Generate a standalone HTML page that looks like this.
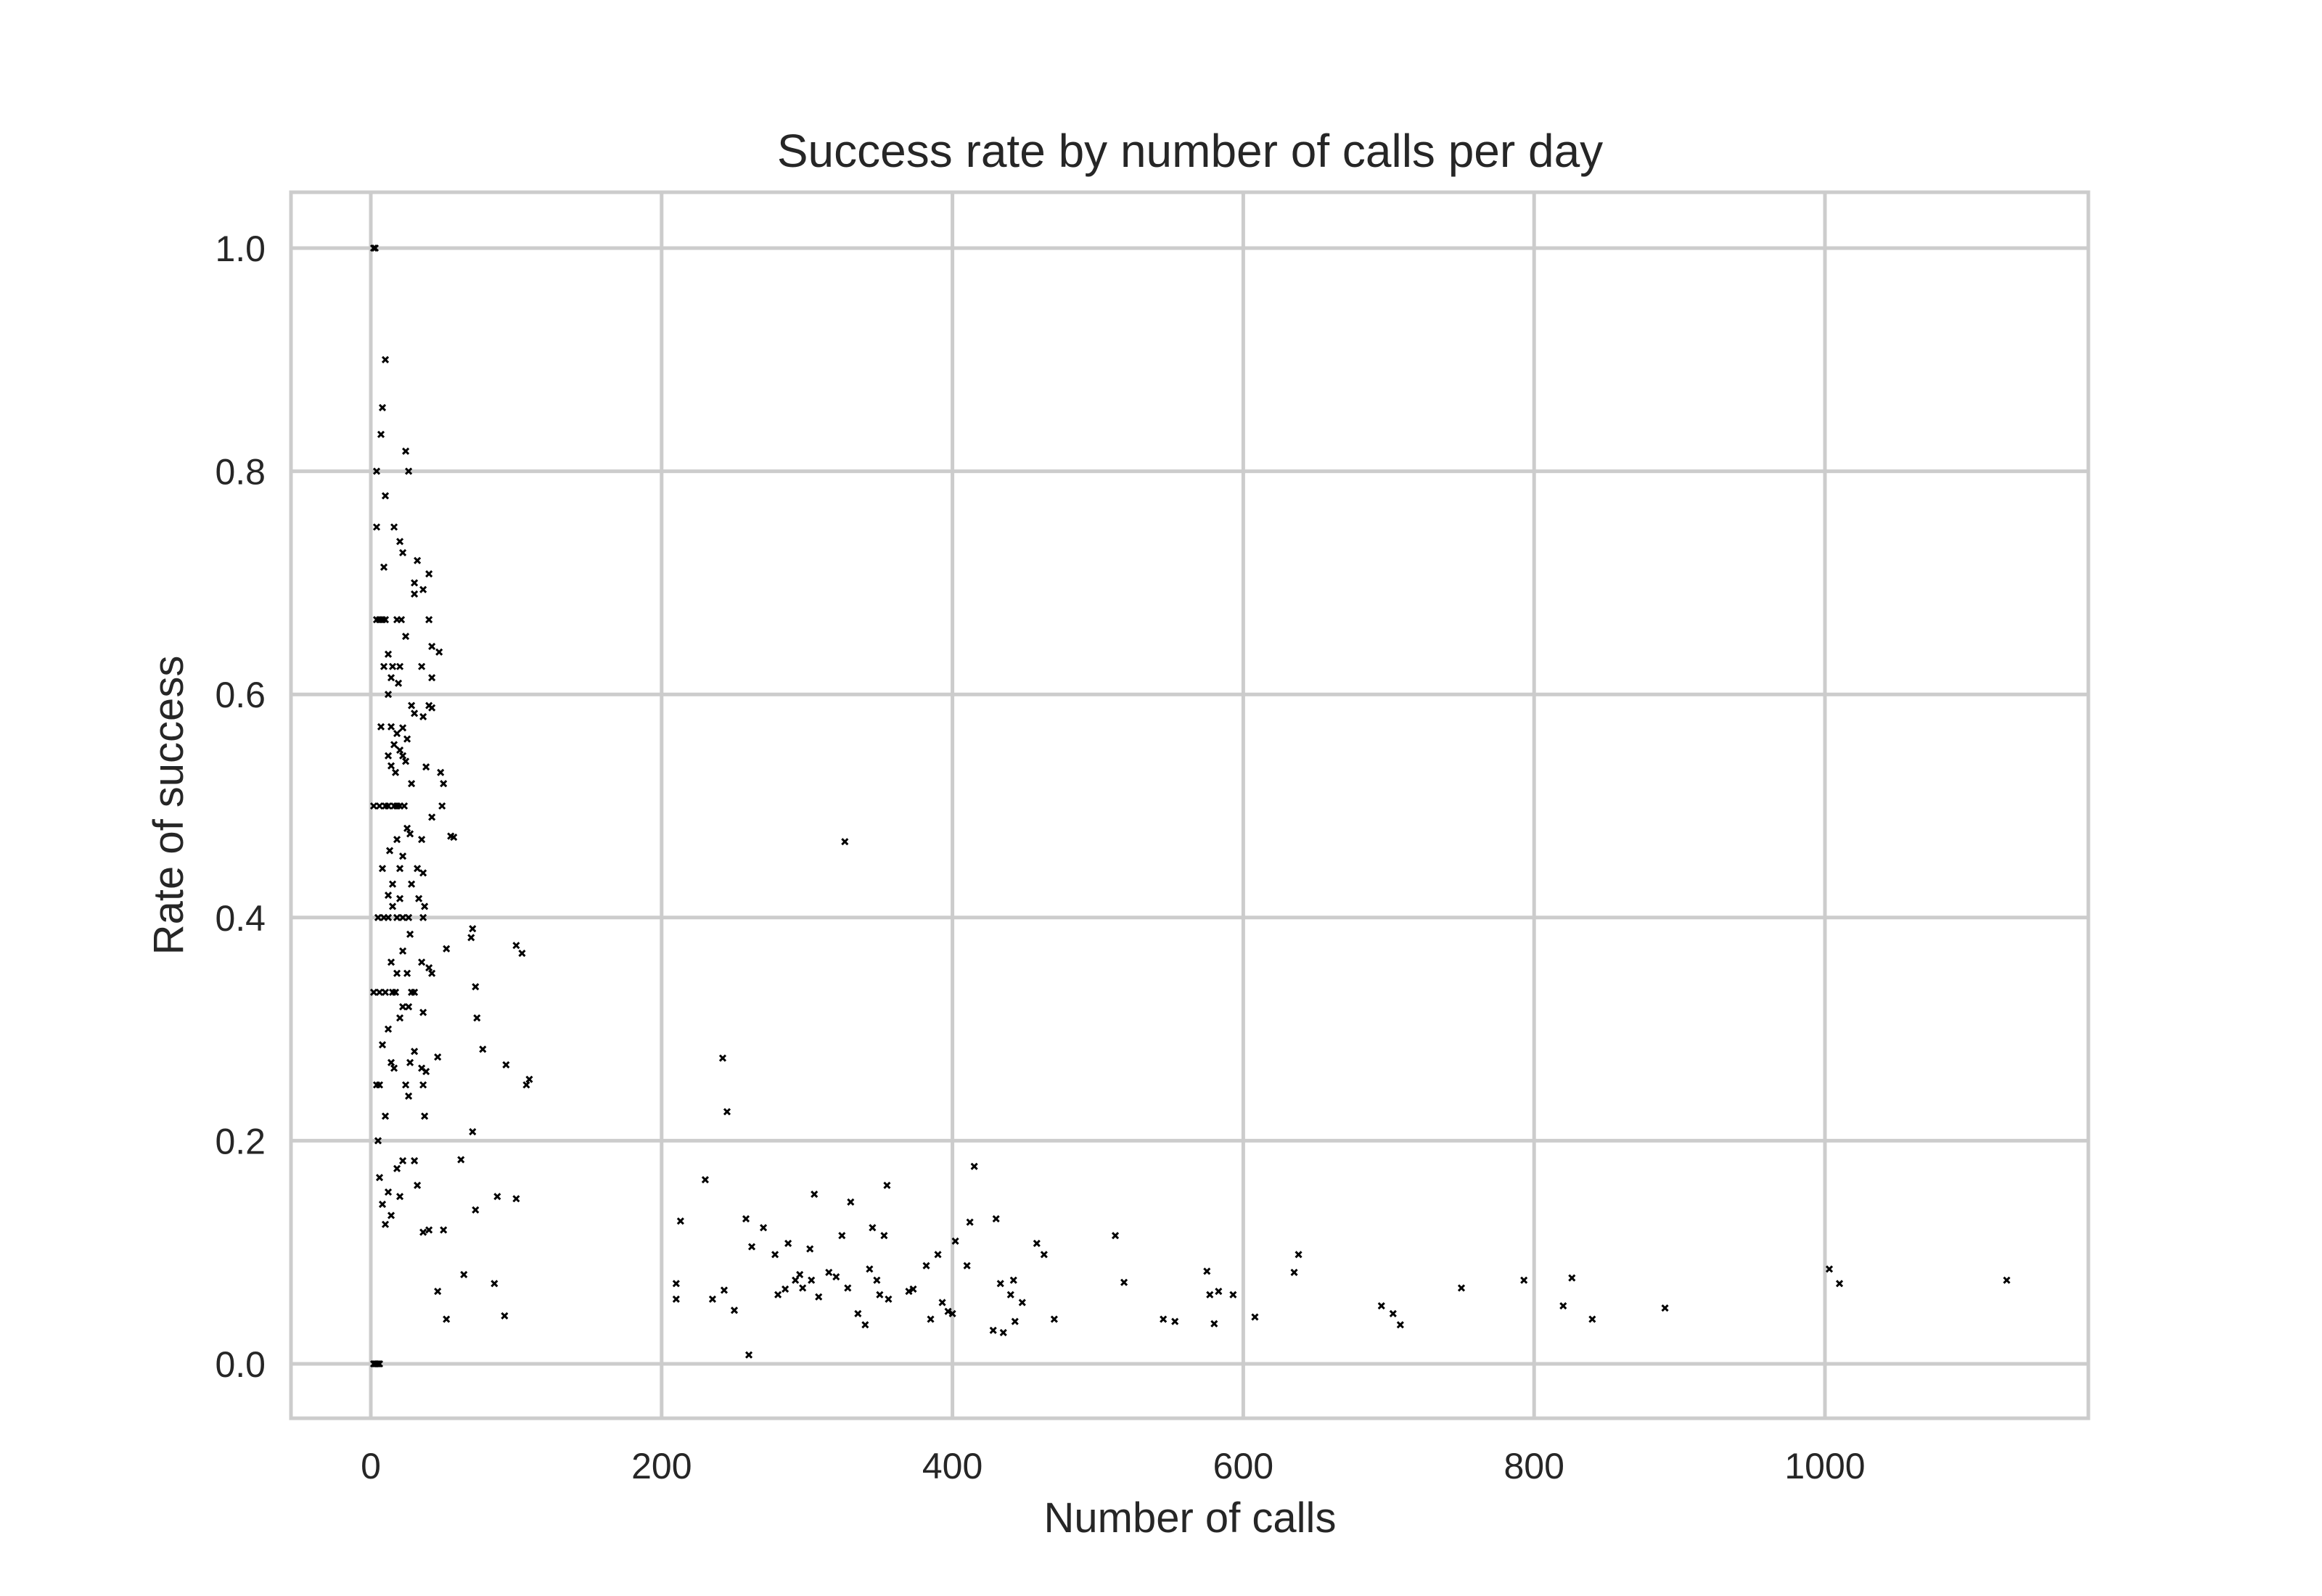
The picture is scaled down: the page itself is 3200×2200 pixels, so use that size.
<!DOCTYPE html>
<html><head><meta charset="utf-8"><style>
html,body{margin:0;padding:0;background:#fff;}
svg{display:block;font-family:"Liberation Sans",sans-serif;}
</style></head><body>
<svg id="chart" width="3200" height="2200" viewBox="0 0 3200 2200" xmlns="http://www.w3.org/2000/svg">
<rect width="3200" height="2200" fill="#fff"/>
<g id="grid"></g>
<rect x="401" y="265" width="2477" height="1690" fill="none" stroke="#cccccc" stroke-width="5"/>
<g id="points"></g>
<g id="ticks"></g>
<text x="1640" y="230" font-size="64" fill="#262626" text-anchor="middle">Success rate by number of calls per day</text>
<text x="1640" y="2112" font-size="58" fill="#262626" text-anchor="middle">Number of calls</text>
<text x="0" y="0" font-size="58" fill="#262626" text-anchor="middle" transform="translate(252,1110) rotate(-90)">Rate of success</text>
</svg>
<script>
const xTicks=[0,200,400,600,800,1000];
const yTicks=[0.0,0.2,0.4,0.6,0.8,1.0];
const yTickLabels=["0.0","0.2","0.4","0.6","0.8","1.0"];
const callsLeft=[2,3,2,3,4,5,6,10,8,7,4,24,26,10,4,16,20,22,9,32,40,30,36,30,4,6,8,10,18,21,40,24,42,47,12,9,15,20,35,42,14,19,12,28,40,42,30,36,22,7,14,18,25,16,20,22,12,24,14,17,38,48,50,28,2,6,10,12,16,18,20,23,49,42,25,27,35,55,18,13,22,8,20,32,36,15,28,12,33,20,15,37,26,5,9,12,18,22,36,52,27,14,22,35,40,18,25,42,2,6,10,15,17,28,30,22,26,36,20,12,8,14,30,46,16,27,35,38,6,4,24,36,26,10,37,5,30,22,18,6,12,20,8,32,10,14,36,40,46,50,52,57,70,69,72,73,77,70,72,62,64,85,87,92,93,100,104,100,107,109];
const rateLeft=[1.0,1.0,0,0,0,0,0,.9,.857,.833,.8,.818,.8,.778,.75,.75,.737,.727,.714,.72,.708,.7,.694,.69,.667,.667,.667,.667,.667,.667,.667,.652,.643,.638,.636,.625,.625,.625,.625,.615,.615,.61,.6,.59,.59,.588,.583,.58,.57,.571,.571,.565,.56,.555,.55,.545,.545,.54,.536,.53,.535,.53,.52,.52,.5,.5,.5,.5,.5,.5,.5,.5,.5,.49,.48,.475,.47,.473,.47,.46,.455,.444,.444,.444,.44,.43,.43,.42,.417,.417,.41,.41,.40,.4,.4,.4,.4,.4,.4,.372,.385,.36,.37,.36,.355,.35,.35,.35,.333,.333,.333,.333,.333,.333,.333,.32,.32,.315,.31,.3,.286,.27,.28,.275,.265,.27,.265,.262,.25,.25,.25,.25,.24,.222,.222,.2,.182,.182,.175,.167,.154,.15,.143,.16,.125,.133,.118,.12,.065,.12,.04,.472,.39,.382,.338,.31,.282,.208,.138,.183,.08,.072,.15,.043,.268,.375,.368,.148,.25,.255];
const callsRight=[210,210,213,230,235,242,243,245,250,258,262,260,270,278,280,285,287,292,295,297,302,303,305,308,315,320,324,326,328,330,335,340,343,345,348,350,353,355,356,370,373,382,385,390,393,397,400,402,410,412,415,428,430,433,435,440,442,443,448,458,463,470,512,518,545,553,575,577,580,583,593,608,635,638,695,703,708,750,793,820,826,840,890,1003,1010,1125];
const rateRight=[.072,.058,.128,.165,.058,.274,.066,.226,.048,.130,.105,.008,.122,.098,.062,.067,.108,.075,.080,.068,.103,.075,.152,.060,.082,.078,.115,.468,.068,.145,.045,.035,.085,.122,.075,.062,.115,.160,.058,.065,.067,.088,.040,.098,.055,.047,.045,.110,.088,.127,.177,.030,.130,.072,.028,.062,.075,.038,.055,.108,.098,.040,.115,.073,.040,.038,.083,.062,.036,.065,.062,.042,.082,.098,.052,.045,.035,.068,.075,.052,.077,.040,.050,.085,.072,.075];
const calls=callsLeft.concat(callsRight);
const rates=rateLeft.concat(rateRight);
const NS="http://www.w3.org/2000/svg";
const L=401,R=2878,T=265,B=1955;
function xs(v){return 511+v*(2515-511)/1000;}
function ys(v){return 1880-v*(1880-342);}
const grid=document.getElementById('grid'),ticks=document.getElementById('ticks'),pts=document.getElementById('points');
function line(g,x1,y1,x2,y2){const l=document.createElementNS(NS,'line');l.setAttribute('x1',x1);l.setAttribute('y1',y1);l.setAttribute('x2',x2);l.setAttribute('y2',y2);l.setAttribute('stroke','#cccccc');l.setAttribute('stroke-width','5');g.appendChild(l);return l;}
xTicks.forEach(v=>{
 const l=line(grid,xs(v),T,xs(v),B);
 
 
 const t=document.createElementNS(NS,'text');
 t.setAttribute('x',xs(v));t.setAttribute('y',2038);t.setAttribute('font-size','50');t.setAttribute('fill','#262626');t.setAttribute('text-anchor','middle');
 t.textContent=String(v);
 
 
 ticks.appendChild(t);
});
yTicks.forEach((v,i)=>{
 const l=line(grid,L,ys(v),R,ys(v));
 
 
 const t=document.createElementNS(NS,'text');
 t.setAttribute('x',366);t.setAttribute('y',ys(v)+18);t.setAttribute('font-size','50');t.setAttribute('fill','#262626');t.setAttribute('text-anchor','end');
 t.textContent=yTickLabels[i];
 
 
 ticks.appendChild(t);
});
calls.forEach((c,i)=>{
 const x=xs(c),y=ys(rates[i]),s=4;
 const p=document.createElementNS(NS,'path');
 p.setAttribute('d',`M${x-s},${y-s}L${x+s},${y+s}M${x-s},${y+s}L${x+s},${y-s}`);
 p.setAttribute('stroke','#000');p.setAttribute('stroke-width','3');
 
 
 pts.appendChild(p);
});
</script>
</body></html>
